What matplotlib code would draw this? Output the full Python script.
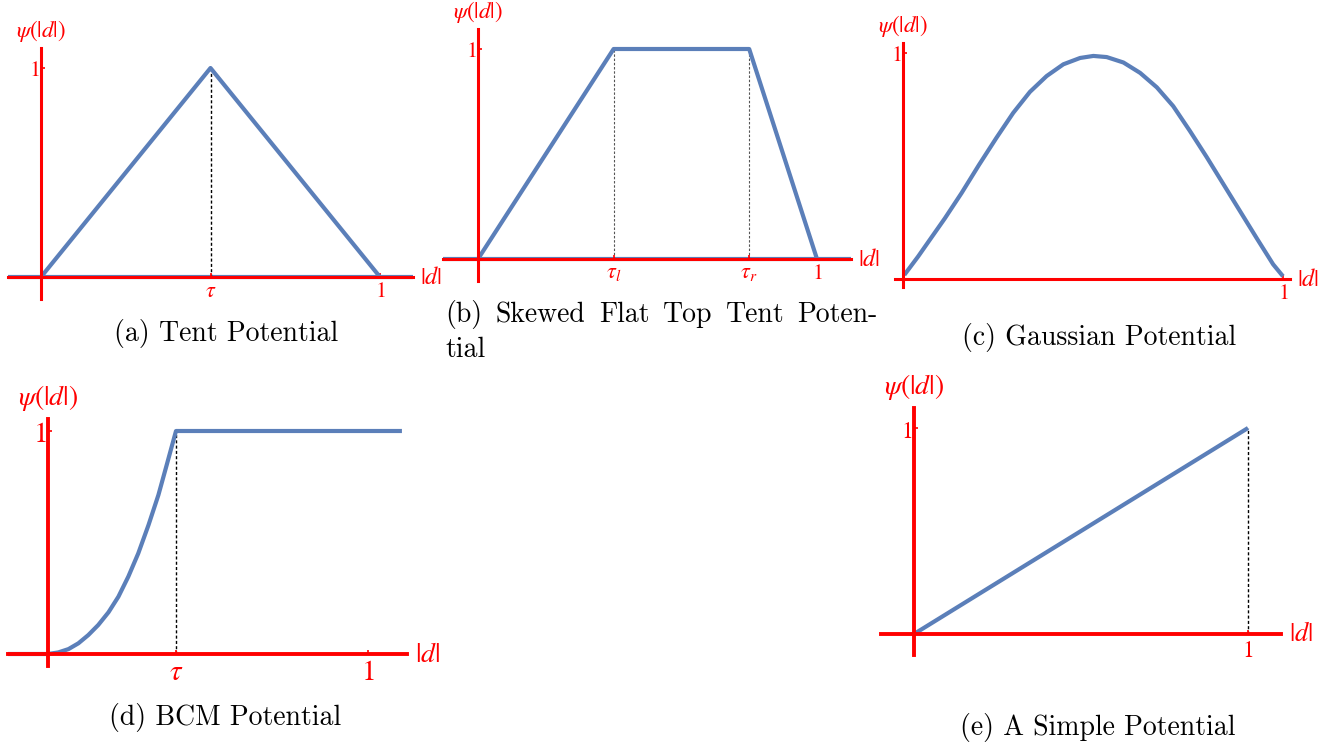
import matplotlib
matplotlib.use('Agg')
import matplotlib.pyplot as plt

plt.rcParams['mathtext.fontset'] = 'stix'

W, H = 1336, 746
RED = '#ff0000'
BLUE = '#5b7fb9'

# ---------------- data ----------------
# (a) tent potential
tent_x = [0.0, 0.5, 1.0]
tent_y = [0.0, 1.0, 0.0]
tent_tau = 0.5

# (b) skewed flat top tent
flat_x = [0.0, 0.40, 0.80, 1.0]
flat_y = [0.0, 1.0, 1.0, 0.0]
flat_tau = [0.40, 0.80]

# (c) gaussian potential
gauss_x = [0.0035, 0.040, 0.067, 0.110, 0.154, 0.200, 0.246, 0.290, 0.334, 0.378,
           0.422, 0.466, 0.501, 0.536, 0.580, 0.624, 0.668, 0.711, 0.755, 0.799,
           0.843, 0.887, 0.931, 0.974, 1.0]
gauss_y = [0.018, 0.100, 0.165, 0.268, 0.380, 0.505, 0.625, 0.735, 0.828, 0.898,
           0.950, 0.978, 0.987, 0.982, 0.958, 0.912, 0.848, 0.765, 0.655, 0.540,
           0.420, 0.300, 0.180, 0.065, 0.012]

# (d) BCM potential
bcm_x = [-0.125, 0.0, 0.032, 0.064, 0.095, 0.126, 0.157, 0.189, 0.220, 0.251,
         0.282, 0.314, 0.345, 0.371, 0.40, 1.106]
bcm_y = [0.0, 0.0, 0.007, 0.022, 0.048, 0.085, 0.130, 0.187, 0.257, 0.347,
         0.451, 0.578, 0.713, 0.848, 1.0, 1.0]
bcm_tau = 0.40

# (e) simple potential
simple_x = [0.0, 1.0]
simple_y = [0.0, 1.0]

fig = plt.figure(figsize=(W / 100, H / 100), dpi=100)


def make_panel(ext, origin, unit, spine_lw=2.2):
    x0, x1, ytop, ybot = ext
    ox, oy = origin
    ux, uy = unit
    ax = fig.add_axes([x0 / W, 1 - ybot / H, (x1 - x0) / W, (ybot - ytop) / H])
    sx = ux - ox
    sy = oy - uy
    ax.set_xlim((x0 - ox) / sx, (x1 - ox) / sx)
    ax.set_ylim((oy - ybot) / sy, (oy - ytop) / sy)
    for s in ['top', 'right']:
        ax.spines[s].set_visible(False)
    for s in ['left', 'bottom']:
        ax.spines[s].set_position(('data', 0))
        ax.spines[s].set_color(RED)
        ax.spines[s].set_linewidth(spine_lw)
        ax.spines[s].set_zorder(3)
    ax.patch.set_alpha(0)
    return ax


def decorate(ax, xt, xl, fs_lab, fs_xt, fs_yt, fs_psi, xpad=3, psi_off=4, d_off=5):
    ax.set_xticks(xt, xl)
    ax.set_yticks([1], ['$1$'])
    ax.tick_params(axis='both', direction='in', length=3, width=1.2, color=RED,
                   labelcolor=RED)
    ax.tick_params(axis='x', pad=xpad, labelsize=fs_xt)
    ax.tick_params(axis='y', pad=1, labelsize=fs_yt)
    ax.annotate(r'$|d|$', xy=(1, 0), xycoords=ax.get_yaxis_transform(),
                xytext=(d_off, 0), textcoords='offset points', ha='left',
                va='center', color=RED, fontsize=fs_lab)
    ax.annotate(r'$\psi(|d|)$', xy=(0, 1), xycoords=ax.get_xaxis_transform(),
                xytext=(0, psi_off), textcoords='offset points', ha='center',
                va='bottom', color=RED, fontsize=fs_psi)


cap_kw = dict(family='cmr10', fontsize=20, color='black')
line_kw = dict(color=BLUE, lw=3, zorder=2, solid_joinstyle='round', solid_capstyle='butt')
dash = (0, (2.2, 1.6))

# ---------------- (a) ----------------
ax = make_panel((8, 413, 48, 299), (41, 277), (380, 68))
ax.axhline(0, color=BLUE, lw=3, zorder=1)
ax.plot(tent_x, tent_y, **line_kw)
ax.vlines(tent_tau, 0, 1, colors='black', linestyles=dash, lw=1.0, zorder=1.5)
decorate(ax, [tent_tau, 1], [r'$\tau$', '$1$'], 17.5, 16, 16, 16.5, psi_off=3)
fig.text(226 / W, 1 - 333 / H, '(a) Tent Potential', ha='center', va='center', **cap_kw)

# ---------------- (b) ----------------
ax = make_panel((443, 851, 29, 281), (478, 259), (817, 49))
ax.axhline(0, color=BLUE, lw=3, zorder=1)
ax.plot(flat_x, flat_y, **line_kw)
ax.vlines(flat_tau, 0, 1, colors='#555555', linestyles=dash, lw=0.8, zorder=1.5)
decorate(ax, flat_tau + [1], [r'$\tau_l$', r'$\tau_r$', '$1$'], 17.5, 16, 16, 16.5, psi_off=3)

words = ['(b)', 'Skewed', 'Flat', 'Top', 'Tent', 'Poten-']
txts = [fig.text(0, 1 - 315 / H, w_, ha='left', va='center', **cap_kw) for w_ in words]
fig.text(445 / W, 1 - 350 / H, 'tial', ha='left', va='center', **cap_kw)
fig.canvas.draw()
r = fig.canvas.get_renderer()
widths = [t.get_window_extent(r).width for t in txts]
left, right = 445, 878
gap = (right - left - sum(widths)) / (len(words) - 1)
xpos = left
for t, wd in zip(txts, widths):
    t.set_x(xpos / W)
    xpos += wd + gap

# ---------------- (c) ----------------
ax = make_panel((895, 1290, 43, 287), (903, 279), (1283, 53))
ax.plot(gauss_x, gauss_y, **line_kw)
decorate(ax, [1], ['$1$'], 17.5, 16, 16, 16.5, psi_off=3)
fig.text(1099 / W, 1 - 337 / H, '(c) Gaussian Potential', ha='center', va='center', **cap_kw)

# ---------------- (d) ----------------
ax = make_panel((8, 407, 419, 666), (48, 654), (368, 431), spine_lw=2.8)
ax.plot(bcm_x, bcm_y, **line_kw)
ax.vlines(bcm_tau, 0, 1, colors='black', linestyles=dash, lw=1.0, zorder=1.5)
decorate(ax, [bcm_tau, 1], [r'$\tau$', '$1$'], 20, 21, 21, 20, xpad=3, d_off=6)
fig.text(225 / W, 1 - 717 / H, '(d) BCM Potential', ha='center', va='center', **cap_kw)

# ---------------- (e) ----------------
ax = make_panel((881, 1281, 408, 655), (914, 634), (1248, 428), spine_lw=2.8)
ax.plot(simple_x, simple_y, **line_kw)
ax.vlines(simple_x[-1], 0, simple_y[-1], colors='black', linestyles=dash, lw=1.0, zorder=1.5)
decorate(ax, [1], ['$1$'], 19, 17, 17, 20, d_off=6)
fig.text(1098 / W, 1 - 728 / H, '(e) A Simple Potential', ha='center', va='center', **cap_kw)

fig.savefig('out.png', dpi=100)
